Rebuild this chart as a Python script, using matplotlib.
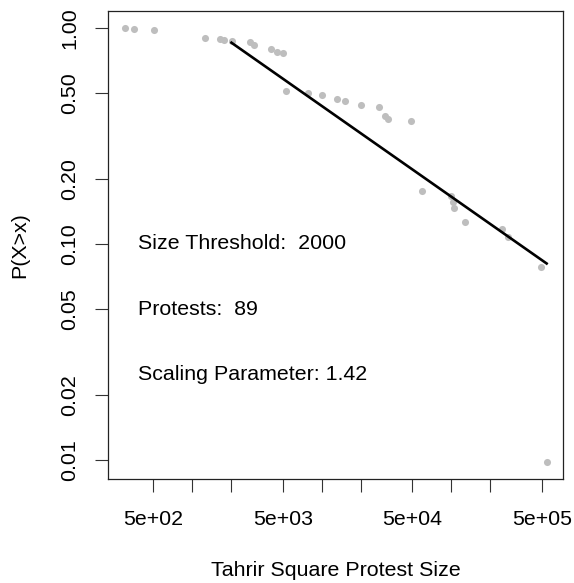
import matplotlib
matplotlib.use("Agg")
import matplotlib.pyplot as plt
import numpy as np

plt.rcParams["font.family"] = ["Liberation Sans", "DejaVu Sans"]

protest_size = [300, 353, 505, 1256, 1641, 1762, 2019, 2767, 3000, 4018,
                4520, 5027, 5278, 7762, 10000, 13000, 14970, 20000, 27400,
                30500, 32350, 48700, 59500, 100000, 102000, 104000, 126500,
                246700, 271700, 494000, 543000]
ccdf = [1.0, 0.986, 0.976, 0.899, 0.886, 0.877, 0.873, 0.861, 0.831, 0.799,
        0.772, 0.762, 0.509, 0.500, 0.488, 0.469, 0.461, 0.439, 0.430,
        0.390, 0.380, 0.372, 0.176, 0.167, 0.156, 0.146, 0.127,
        0.117, 0.108, 0.078, 0.0098]

# fitted power law
xmin = 2000
alpha = 1.42
p_at_xmin = 0.855
n_protests = 89

x_ticks = [500, 1000, 2000, 5000, 10000, 20000, 50000, 100000, 200000, 500000]
x_labels = ["5e+02", "", "", "5e+03", "", "", "5e+04", "", "", "5e+05"]
y_ticks = [0.01, 0.02, 0.05, 0.1, 0.2, 0.5, 1.0]
y_labels = ["0.01", "0.02", "0.05", "0.10", "0.20", "0.50", "1.00"]

FS = 15.4

W, H = 574, 583
fig = plt.figure(figsize=(W / 100, H / 100), dpi=100)
ax = fig.add_axes([108 / W, (H - 479) / H, (563 - 108) / W, (479 - 11) / H])

ax.scatter(protest_size, ccdf, s=26, color="#BEBEBE", linewidths=0, zorder=2)

fit_x = np.logspace(np.log10(xmin), np.log10(max(protest_size)), 50)
fit_y = p_at_xmin * (fit_x / xmin) ** (-(alpha - 1))
ax.plot(fit_x, fit_y, color="black", lw=1.9, zorder=3)

ax.set_xscale("log")
ax.set_yscale("log")
ax.set_xlim(10 ** 2.3477, 10 ** 5.8612)
ax.set_ylim(10 ** -2.088, 10 ** 0.0787)

ax.xaxis.set_minor_locator(matplotlib.ticker.NullLocator())
ax.yaxis.set_minor_locator(matplotlib.ticker.NullLocator())
ax.set_xticks(x_ticks)
ax.set_xticklabels(x_labels)
ax.set_yticks(y_ticks)
ax.set_yticklabels(y_labels, rotation=90, va="center")

ax.tick_params(axis="x", length=9.5, width=0.8, pad=13, labelsize=FS,
               color="#333333")
ax.tick_params(axis="y", length=9.5, width=0.8, pad=11, labelsize=FS,
               color="#333333")
for sp in ax.spines.values():
    sp.set_linewidth(0.9)
    sp.set_color("#222222")

txt_x = 10 ** 2.58
ax.text(txt_x, 0.1, f"Size Threshold:  {xmin}", fontsize=FS, va="center", ha="left")
ax.text(txt_x, 0.05, f"Protests:  {n_protests}", fontsize=FS, va="center", ha="left")
ax.text(txt_x, 0.025, f"Scaling Parameter: {alpha}", fontsize=FS, va="center", ha="left")

fig.text(20 / W, (H - 245) / H, "P(X>x)", rotation=90, fontsize=FS,
         ha="center", va="center")
fig.text(336 / W, (H - 570) / H, "Tahrir Square Protest Size", fontsize=FS,
         ha="center", va="center")

fig.savefig("out.png", dpi=100)
